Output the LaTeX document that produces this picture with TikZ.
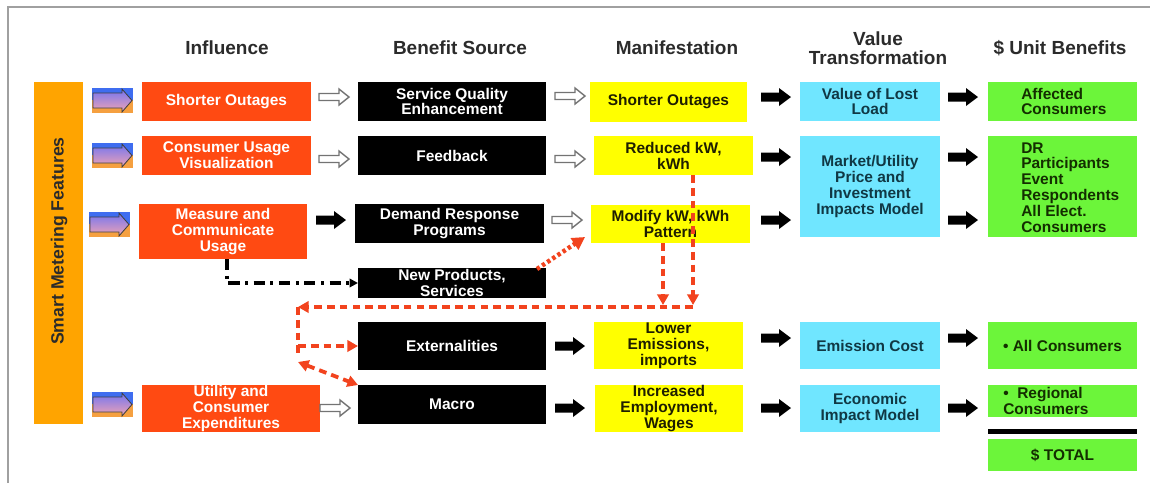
\documentclass[tikz,border=0pt]{standalone}
\usepackage{fontspec}
\setmainfont{Liberation Sans}
\usetikzlibrary{arrows.meta,calc}

\definecolor{inflred}{HTML}{FF4A12}
\definecolor{barorange}{HTML}{FFA400}
\definecolor{manyellow}{HTML}{FFFF00}
\definecolor{valcyan}{HTML}{70E6FF}
\definecolor{bengreen}{HTML}{6CF53A}
\definecolor{headgray}{HTML}{2B2B2B}
\definecolor{dashred}{HTML}{F2431E}
\definecolor{framegray}{HTML}{A0A0A0}
\definecolor{cyantext}{HTML}{103844}
\definecolor{greentext}{HTML}{132E00}
\definecolor{yellowtext}{HTML}{1E1E00}
\definecolor{icblue}{HTML}{3F6DF0}
\definecolor{icorange}{HTML}{F5A040}
\definecolor{icarrowtop}{HTML}{7474F0}
\definecolor{icarrowbot}{HTML}{F0A4B4}

\newcommand\bxfont{\bfseries\fontsize{11}{11.3}\selectfont}
\newcommand\hdfont{\bfseries\fontsize{13.5}{13.6}\selectfont}

% hollow block arrow centred at (x,y), 30px long
\newcommand\hollowarrow[2]{%
  \draw[draw=black!55, fill=white, line width=1pt, line join=miter]
    (#1-15,#2-3.5) -- (#1+5,#2-3.5) -- (#1+5,#2-8) -- (#1+15,#2)
    -- (#1+5,#2+8) -- (#1+5,#2+3.5) -- (#1-15,#2+3.5) -- cycle;}
% solid black block arrow centred at (x,y)
\newcommand\solidarrow[2]{%
  \fill[black]
    (#1-15,#2-4.5) -- (#1+3,#2-4.5) -- (#1+3,#2-9) -- (#1+15,#2)
    -- (#1+3,#2+9) -- (#1+3,#2+4.5) -- (#1-15,#2+4.5) -- cycle;}
% small two-tone meter icon, top-left corner at (x,y), 41x25 px
\newcommand\meterIcon[2]{%
  \fill[icblue] (#1,#2) rectangle (#1+41,#2+12);
  \fill[icorange] (#1,#2+12) rectangle (#1+41,#2+25);
  \shadedraw[top color=icarrowtop, bottom color=icarrowbot, draw=black!75, line width=0.6pt]
    (#1+1,#2+5) -- (#1+30,#2+5) -- (#1+30,#2+1) -- (#1+40,#2+12.5)
    -- (#1+30,#2+24) -- (#1+30,#2+20) -- (#1+1,#2+20) -- cycle;}

\tikzset{
  box/.style n args={4}{minimum width={(#3-#1)*0.025cm}, minimum height={(#4-#2)*0.025cm},
    at={({(#1+#3)/2},{(#2+#4)/2})}},
  base/.style={inner sep=0pt, outer sep=0pt, align=center, font=\bxfont},
  infl/.style={base, fill=inflred, text=white},
  src/.style={base, fill=black, text=white},
  man/.style={base, fill=manyellow, text=yellowtext},
  val/.style={base, fill=valcyan, text=cyantext},
  ben/.style={base, fill=bengreen, text=greentext},
  bentxt/.style={inner sep=0pt, align=left, font=\bxfont, text=greentext, anchor=west},
  head/.style={inner sep=0pt, align=center, font=\hdfont, text=headgray},
  tip/.tip={Triangle[length=7.5pt,width=8pt]},
  rdash/.style={draw=dashred, line width=2.7pt, dash pattern=on 5.5pt off 3.6pt},
  rdot/.style={draw=dashred, line width=3.2pt, dash pattern=on 2.4pt off 2pt},
  bdashdot/.style={draw=black, line width=2.2pt, dash pattern=on 8pt off 4pt on 2pt off 4pt},
}

\begin{document}
\begin{tikzpicture}[x=0.025cm, y=-0.025cm]
\useasboundingbox (0,0) rectangle (1160,483);
\fill[white] (0,0) rectangle (1160,483);

% frame
\draw[framegray, line width=1.8pt] (8,483) -- (8,7) -- (1150,7);

% column headings
\node[head] (h-infl) at (227,48) {Influence};
\node[head] (h-src)  at (460,48) {Benefit Source};
\node[head] (h-man)  at (677,48) {Manifestation};
\node[head] (h-val)  at (878,48) {Value\\Transformation};
\node[head] (h-ben)  at (1060,48) {\$ Unit Benefits};

% side bar
\node[base, fill=barorange, box={34}{82}{83}{424}] (smf) {};
\node[rotate=90, inner sep=0pt, font=\bfseries\fontsize{12.6}{13}\selectfont, text=headgray]
  (smf-t) at (59,241) {Smart Metering Features};

% meter icons
\meterIcon{92}{88}
\meterIcon{92}{143}
\meterIcon{89}{212}
\meterIcon{92}{392}

% influence
\node[infl, box={142}{82}{311}{121}]  (so1) {Shorter Outages};
\node[infl, box={142}{136}{311}{175}] (cuv) {Consumer Usage\\Visualization};
\node[infl, box={139}{204}{307}{259}] (mcu) {Measure and\\Communicate\\Usage};
\node[infl, box={142}{385}{320}{432}] (uce) {Utility and\\Consumer\\Expenditures};

% benefit source
\node[src, box={358}{82}{546}{121}]  (sqe) {Service Quality\\Enhancement};
\node[src, box={358}{136}{546}{175}] (fb)  {Feedback};
\node[src, box={355}{204}{544}{243}] (drp) {Demand Response\\Programs};
\node[src, box={358}{268}{546}{298}] (nps) {New Products,\\Services};
\node[src, box={358}{322}{546}{370}] (ext) {Externalities};
\node[src, box={358}{385}{546}{424}] (mac) {Macro};

% manifestation
\node[man, box={590}{82}{747}{122}]  (so2) {Shorter Outages};
\node[man, box={594}{136}{753}{175}] (red) {Reduced kW,\\kWh};
\node[man, box={591}{205}{750}{243}] (mod) {Modify kW, kWh\\Pattern};
\node[man, box={594}{322}{743}{369}] (low) {Lower\\Emissions,\\imports};
\node[man, box={595}{385}{743}{432}] (inc) {Increased\\Employment,\\Wages};

% value transformation
\node[val, box={800}{82}{940}{121}]  (voll) {Value of Lost\\Load};
\node[val, box={800}{136}{940}{237}] (mkt)  {Market/Utility\\Price and\\Investment\\Impacts Model};
\node[val, box={800}{322}{940}{369}] (emc)  {Emission Cost};
\node[val, box={800}{385}{940}{432}] (eim)  {Economic\\Impact Model};

% unit benefits
\node[ben, box={988}{82}{1137}{121}]  (aff) {};
\node[bentxt] (aff-t) at (1021,101.5) {Affected\\Consumers};
\node[ben, box={988}{136}{1137}{237}] (drb) {};
\node[bentxt] (drb-t) at (1021,187.5) {DR\\Participants\\Event\\Respondents\\All Elect.\\Consumers};
\node[ben, box={988}{322}{1137}{369}] (allc) {• All Consumers};
\node[ben, box={988}{385}{1137}{417}] (reg) {};
\node[bentxt] (reg-t) at (1003,401) {•\ \ Regional\\Consumers};
\node[base, fill=black, box={988}{429}{1137}{434}] (sumbar) {};
\node[ben, box={988}{439}{1137}{471}] (tot) {\$ TOTAL};

% block arrows: influence -> benefit source
\hollowarrow{334}{97}
\hollowarrow{334}{159}
\solidarrow{331}{220}
\hollowarrow{335}{408}
% benefit source -> manifestation
\hollowarrow{570}{96}
\hollowarrow{570}{159}
\hollowarrow{567}{220}
\solidarrow{570}{346}
\solidarrow{570}{408}
% manifestation -> value transformation
\solidarrow{776}{97}
\solidarrow{776}{157}
\solidarrow{776}{220}
\solidarrow{776}{338}
\solidarrow{776}{408}
% value transformation -> unit benefits
\solidarrow{963}{97}
\solidarrow{963}{157}
\solidarrow{963}{220}
\solidarrow{963}{338}
\solidarrow{963}{408}

% measure and communicate -> new products
\coordinate (mc1) at (227,283);
\draw[bdashdot, -{Triangle[length=6pt,width=6pt]}] (mcu.south -| mc1) -- (mc1) -- (nps.west);

% new products -> modify pattern
\draw[rdot, -{Triangle[length=9pt,width=9.5pt]}]
  ($(nps.north east)+(-9,1)$) -- ($(mod.south west)+(-6,-6)$);

% feedback loop of demand changes
\coordinate (jR) at (693,307);
\coordinate (mDrop) at (663,307);
\coordinate (jL) at (298,307);
\coordinate (jB) at (298,358);
\coordinate (jE) at (298,346);
\coordinate (jM) at (298,362);
\draw[rdash, -tip] (red.south -| jR) -- ($(jR)+(0,-2)$);
\draw[rdash, -tip] (mod.south -| mDrop) -- ($(mDrop)+(0,-2)$);
\draw[rdash, -tip] (jR) -- (jL);
\draw[rdash] (jL) -- (jB);
\draw[rdash, -tip] (jE) -- (ext.west |- jE);
\draw[rdash, tip-tip] (jM) -- (mac.north west);
\end{tikzpicture}
\end{document}
